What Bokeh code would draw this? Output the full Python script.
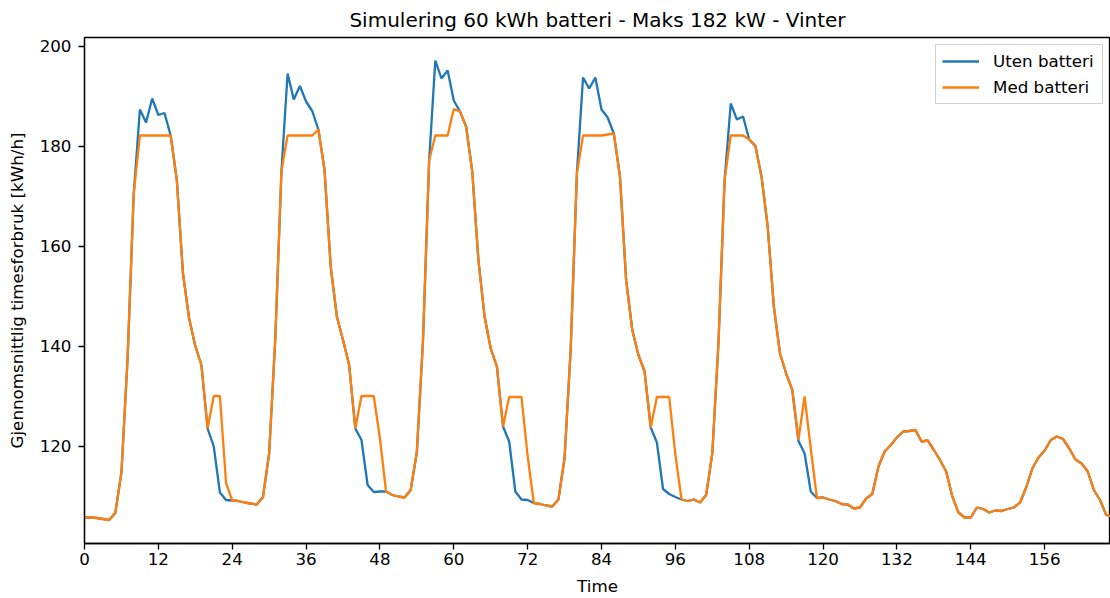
from bokeh.plotting import figure
from bokeh.models import Range1d, FixedTicker, Legend, LegendItem
from bokeh.embed import file_html
from bokeh.resources import INLINE

hours = list(range(168))

uten_batteri = [
    105.7, 105.7, 105.6, 105.4, 105.2, 106.6, 114.7, 137.5, 170.5, 187.3,
    184.7, 189.5, 186.2, 186.6, 182.1, 173.2, 154.5, 145.5, 140.0, 136.2,
    123.5, 119.9, 110.7, 109.2, 109.1, 109.0, 108.7, 108.5, 108.3, 109.8,
    118.5, 141.5, 175.0, 194.5, 189.3, 192.0, 188.9, 187.0, 183.3, 175.2,
    155.9, 145.9, 141.2, 136.2, 123.5, 121.2, 112.2, 110.8, 110.9, 110.9,
    110.2, 109.9, 109.7, 111.2, 118.8, 141.2, 177.2, 197.1, 193.5, 195.1,
    189.1, 186.9, 183.9, 174.9, 157.2, 145.9, 139.5, 135.9, 123.9, 120.9,
    110.9, 109.3, 109.2, 108.6, 108.4, 108.1, 107.9, 109.3, 117.6, 139.5,
    174.5, 193.7, 191.5, 193.7, 187.3, 185.7, 182.5, 173.9, 153.2, 143.2,
    138.2, 134.9, 123.7, 120.7, 111.4, 110.4, 109.8, 109.3, 109.0, 109.3,
    108.7, 110.2, 118.5, 140.5, 173.2, 188.5, 185.3, 185.9, 181.3, 180.0,
    173.9, 163.9, 147.9, 138.5, 134.5, 131.2, 121.0, 118.5, 110.9, 109.6,
    109.7, 109.3, 109.0, 108.4, 108.3, 107.5, 107.7, 109.5, 110.4, 115.9,
    118.9, 120.2, 121.7, 122.9, 123.0, 123.2, 120.9, 121.1, 119.2, 117.2,
    114.9, 109.9, 106.7, 105.7, 105.7, 107.7, 107.4, 106.7, 107.1, 107.0,
    107.4, 107.7, 108.7, 111.7, 115.5, 117.7, 119.1, 121.2, 121.9, 121.4,
    119.5, 117.3, 116.5, 114.9, 111.2, 109.2, 106.2, 105.9,
]

med_batteri = [
    105.7, 105.7, 105.6, 105.4, 105.2, 106.6, 114.7, 137.5, 170.5, 182.1,
    182.1, 182.1, 182.1, 182.1, 182.1, 173.2, 154.5, 145.5, 140.0, 136.2,
    123.5, 130.0, 130.0, 112.6, 109.1, 109.0, 108.7, 108.5, 108.3, 109.8,
    118.5, 141.5, 175.0, 182.1, 182.1, 182.1, 182.1, 182.1, 183.3, 175.2,
    155.9, 145.9, 141.2, 136.2, 123.5, 130.0, 130.0, 130.0, 121.5, 110.9,
    110.2, 109.9, 109.7, 111.2, 118.8, 141.2, 177.2, 182.1, 182.1, 182.1,
    187.4, 186.9, 183.9, 174.9, 157.2, 145.9, 139.5, 135.9, 123.9, 129.8,
    129.8, 129.8, 118.0, 108.6, 108.4, 108.1, 107.9, 109.3, 117.6, 139.5,
    174.5, 182.1, 182.1, 182.1, 182.1, 182.3, 182.5, 173.9, 153.2, 143.2,
    138.2, 134.9, 123.7, 129.8, 129.8, 129.8, 118.3, 109.3, 109.0, 109.3,
    108.7, 110.2, 118.5, 140.5, 173.2, 182.1, 182.1, 182.1, 181.3, 180.0,
    173.9, 163.9, 147.9, 138.5, 134.5, 131.2, 121.3, 129.9, 119.5, 109.6,
    109.7, 109.3, 109.0, 108.4, 108.3, 107.5, 107.7, 109.5, 110.4, 115.9,
    118.9, 120.2, 121.7, 122.9, 123.0, 123.2, 120.9, 121.1, 119.2, 117.2,
    114.9, 109.9, 106.7, 105.7, 105.7, 107.7, 107.4, 106.7, 107.1, 107.0,
    107.4, 107.7, 108.7, 111.7, 115.5, 117.7, 119.1, 121.2, 121.9, 121.4,
    119.5, 117.3, 116.5, 114.9, 111.2, 109.2, 106.2, 105.9,
]

x_ticks = [0, 12, 24, 36, 48, 60, 72, 84, 96, 108, 120, 132, 144, 156]
y_ticks = [120, 140, 160, 180, 200]

FONT = "DejaVu Sans"

p = figure(
    width=1110, height=598,
    output_backend="svg", toolbar_location=None,
    x_range=Range1d(0, 166.7), y_range=Range1d(100.5, 201.7),
    title="Simulering 60 kWh batteri - Maks 182 kW - Vinter",
    min_border_left=84, min_border_right=0, min_border_top=37, min_border_bottom=55,
)

p.title.text_font = FONT
p.title.text_font_size = "20px"
p.title.text_font_style = "normal"
p.title.text_color = "black"
p.title.align = "center"
p.title.standoff = 11

r1 = p.line(hours, uten_batteri, line_color="#1f77b4", line_width=2.3)
r2 = p.line(hours, med_batteri, line_color="#ff7f0e", line_width=2.3)

p.xgrid.visible = False
p.ygrid.visible = False
p.outline_line_color = "black"
p.outline_line_width = 1.3

for ax in (p.xaxis[0], p.yaxis[0]):
    ax.axis_line_color = "black"
    ax.axis_line_width = 1.3
    ax.major_tick_line_color = "black"
    ax.major_tick_line_width = 1.3
    ax.major_tick_out = 6
    ax.major_tick_in = 0
    ax.minor_tick_line_color = None
    ax.major_label_text_font = FONT
    ax.major_label_text_font_size = "16.7px"
    ax.major_label_text_color = "black"
    ax.axis_label_text_font = FONT
    ax.axis_label_text_font_size = "16.7px"
    ax.axis_label_text_font_style = "normal"
    ax.axis_label_text_color = "black"

p.xaxis[0].ticker = FixedTicker(ticks=x_ticks)
p.yaxis[0].ticker = FixedTicker(ticks=y_ticks)
p.xaxis[0].axis_label = "Time"
p.yaxis[0].axis_label = "Gjennomsnittlig timesforbruk [kWh/h]"
p.xaxis[0].major_label_standoff = 3
p.xaxis[0].axis_label_standoff = 8
p.yaxis[0].major_label_standoff = 7
p.yaxis[0].axis_label_standoff = 10

legend = Legend(
    items=[LegendItem(label="Uten batteri", renderers=[r1]),
           LegendItem(label="Med batteri", renderers=[r2])],
    location=(851, 439),
    label_text_font=FONT, label_text_font_size="16.7px", label_text_color="black",
    glyph_width=37, glyph_height=20, label_height=20, label_width=103,
    label_standoff=14, spacing=6, padding=6, margin=0,
    border_line_color="#cccccc", border_line_width=1, border_line_alpha=0.9,
    background_fill_color="white", background_fill_alpha=0.8,
)
p.add_layout(legend, "center")

open("out.html", "w").write(file_html(p, INLINE))
